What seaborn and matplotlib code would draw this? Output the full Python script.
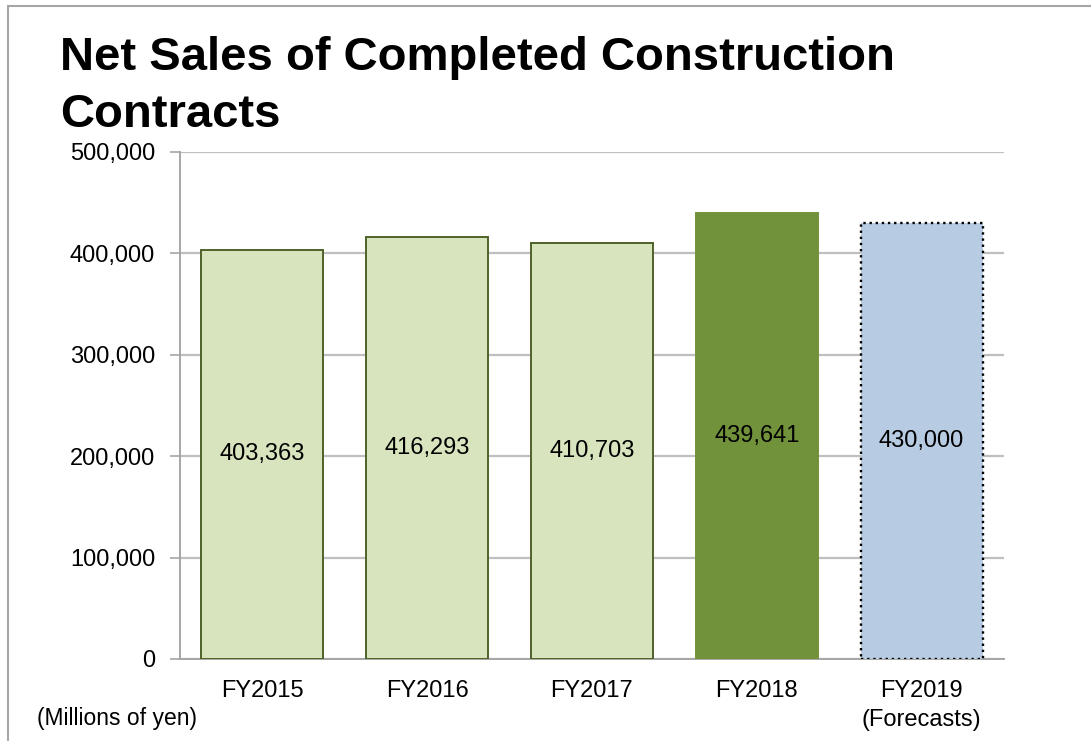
import matplotlib
matplotlib.use("Agg")
import matplotlib.pyplot as plt
import seaborn as sns
import pandas as pd
from matplotlib.lines import Line2D
from matplotlib.ticker import FuncFormatter

categories = ["FY2015", "FY2016", "FY2017", "FY2018", "FY2019"]
tick_labels = ["FY2015", "FY2016", "FY2017", "FY2018", "FY2019\n(Forecasts)"]
values = [403363, 416293, 410703, 439641, 430000]
fill_colors = ["#D7E4BD", "#D7E4BD", "#D7E4BD", "#71923A", "#B7CBE3"]
edge_colors = ["#4F6228", "#4F6228", "#4F6228", "#71923A", "#000000"]
edge_styles = ["solid", "solid", "solid", "solid", (0, (1, 1.6))]

sns.set_theme(style="white")
plt.rcParams["font.family"] = ["Liberation Sans", "DejaVu Sans"]
plt.rcParams["text.color"] = "black"
plt.rcParams["xtick.color"] = "black"
plt.rcParams["ytick.color"] = "black"

df = pd.DataFrame({"cat": categories, "val": values})

fig = plt.figure(figsize=(10.91, 7.41), dpi=100)
ax = fig.add_axes([180 / 1091, 0.1107, (1004 - 180) / 1091, 0.7949 - 0.1107])

sns.barplot(data=df, x="cat", y="val", hue="cat", palette=fill_colors, saturation=1,
            width=0.74, legend=False, ax=ax, zorder=3)

for p, ec, ls in zip(ax.patches, edge_colors, edge_styles):
    p.set_edgecolor(ec)
    p.set_linestyle(ls)
    p.set_linewidth(1.7 if ls != "solid" else 1.4)

for i, v in enumerate(values):
    ax.text(i, v / 2, f"{v:,}", ha="center", va="center", fontsize=17, color="black", zorder=4)

ax.set_ylim(0, 500000)
ax.set_xlim(-0.5, 4.5)
ax.set_yticks([0, 100000, 200000, 300000, 400000, 500000])
ax.yaxis.set_major_formatter(FuncFormatter(lambda v, p: f"{int(v):,}"))
ax.yaxis.grid(True, color="#BFBFBF", linewidth=1.6, zorder=0)
ax.set_axisbelow(True)

ax.set_xticks(range(len(categories)))
ax.set_xticklabels(tick_labels, fontsize=17, linespacing=1.45, va="top")
ax.set_xticks([-0.5, 0.5, 1.5, 2.5, 3.5, 4.5], minor=True)
ax.tick_params(axis="x", which="major", length=0, pad=15)
ax.tick_params(axis="x", which="minor", length=7, color="#A6A6A6", width=1.2, direction="out")
ax.tick_params(axis="y", which="major", length=7, color="#A6A6A6", width=1.2, direction="out",
               labelsize=17, pad=11, left=True)

ax.set_xlabel("")
ax.set_ylabel("")
for s in ["top", "right"]:
    ax.spines[s].set_visible(False)
for s in ["left", "bottom"]:
    ax.spines[s].set_color("#A6A6A6")
    ax.spines[s].set_linewidth(1.4)

fig.text(60 / 1091, 1 - 36 / 741, "Net Sales of Completed Construction\nContracts",
         fontsize=34, fontweight="bold", ha="left", va="top", linespacing=1.38, color="black")
fig.text(37 / 1091, 1 - 718 / 741, "(Millions of yen)", fontsize=16.5, ha="left", va="center",
         color="black")

# page frame lines
fig.add_artist(Line2D([8 / 1091, 1.0], [1 - 6 / 741, 1 - 6 / 741], color="#A6A6A6", linewidth=1.5,
                      transform=fig.transFigure))
fig.add_artist(Line2D([8 / 1091, 8 / 1091], [0, 1 - 6 / 741], color="#A6A6A6", linewidth=1.5,
                      transform=fig.transFigure))

fig.savefig("out.png", dpi=100, facecolor="white")
